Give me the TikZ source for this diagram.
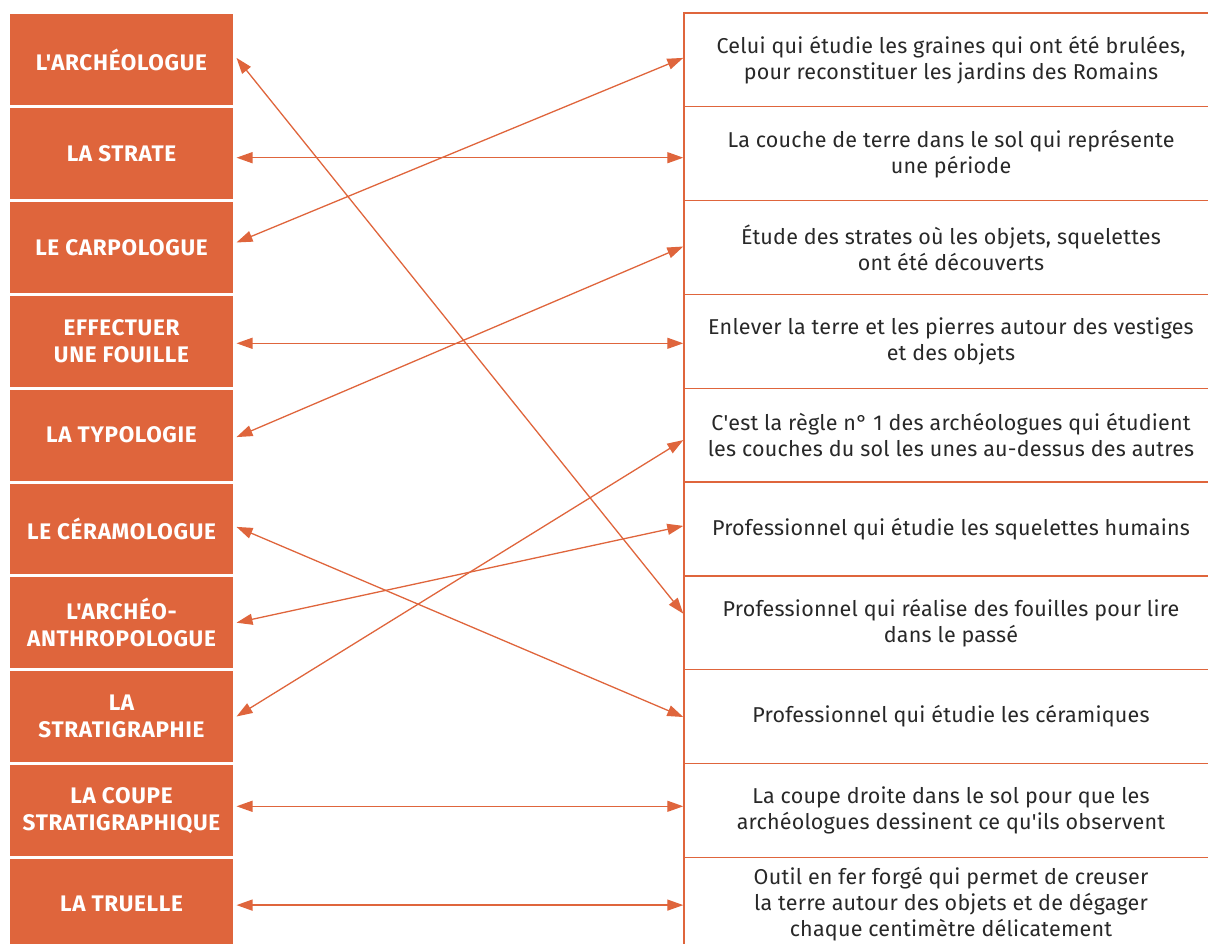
\documentclass[tikz,border=0pt]{standalone}
\usepackage{fontspec}
\setmainfont{Fira Sans}
\newfontfamily\lfont[LetterSpace=3]{Fira Sans}
\newfontfamily\rfont[LetterSpace=1]{Fira Sans}
\usetikzlibrary{arrows.meta}
\definecolor{org}{RGB}{223,101,60}
\definecolor{txt}{RGB}{40,40,40}
\tikzset{
  lbox/.style={fill=org, draw=white, line width=3pt, minimum width=226pt, minimum height=93.8pt,
    inner sep=0pt, align=center, text=white, font=\lfont\fontsize{22.5}{27}\selectfont\bfseries},
  rbox/.style={draw=org, line width=1.4pt, minimum width=534pt, minimum height=93.8pt,
    inner sep=0pt, align=center, text=txt, font=\rfont\fontsize{21.5}{26}\selectfont},
  conn/.style={draw=org, line width=1.3pt, {Triangle[length=16pt,width=11pt]}-{Triangle[length=16pt,width=11pt]}}
}
\begin{document}
\begin{tikzpicture}[x=1pt,y=-1pt]
\useasboundingbox (0,0) rectangle (1208,944);
% left column
\node[lbox] (L1) at (121.5,59.9) {L'ARCHÉOLOGUE};
\node[lbox] (L2) at (121.5,153.7) {LA STRATE};
\node[lbox] (L3) at (121.5,247.5) {LE CARPOLOGUE};
\node[lbox] (L4) at (121.5,341.3) {EFFECTUER\\UNE FOUILLE};
\node[lbox] (L5) at (121.5,435.1) {LA TYPOLOGIE};
\node[lbox] (L6) at (121.5,528.9) {LE CÉRAMOLOGUE};
\node[lbox] (L7) at (121.5,622.7) {L'ARCHÉO-\\ANTHROPOLOGUE};
\node[lbox] (L8) at (121.5,716.5) {LA\\STRATIGRAPHIE};
\node[lbox] (L9) at (121.5,810.3) {LA COUPE\\STRATIGRAPHIQUE};
\node[lbox] (L10) at (121.5,904.1) {LA TRUELLE};
% right column
\node[rbox] (R1) at (951,59.9) {Celui qui étudie les graines qui ont été brulées,\\pour reconstituer les jardins des Romains};
\node[rbox] (R2) at (951,153.7) {La couche de terre dans le sol qui représente\\une période};
\node[rbox] (R3) at (951,247.5) {Étude des strates où les objets, squelettes\\ont été découverts};
\node[rbox] (R4) at (951,341.3) {Enlever la terre et les pierres autour des vestiges\\et des objets};
\node[rbox] (R5) at (951,435.1) {C'est la règle n° 1 des archéologues qui étudient\\les couches du sol les unes au-dessus des autres};
\node[rbox] (R6) at (951,528.9) {Professionnel qui étudie les squelettes humains};
\node[rbox] (R7) at (951,622.7) {Professionnel qui réalise des fouilles pour lire\\dans le passé};
\node[rbox] (R8) at (951,716.5) {Professionnel qui étudie les céramiques};
\node[rbox] (R9) at (951,810.3) {La coupe droite dans le sol pour que les\\archéologues dessinent ce qu'ils observent};
\node[rbox] (R10) at (951,904.1) {Outil en fer forgé qui permet de creuser\\la terre autour des objets et de dégager\\chaque centimètre délicatement};
% connectors
\draw[conn] ([xshift=0.5pt,yshift=2pt]L1.east) -- ([yshift=9pt]R7.west);
\draw[conn] ([xshift=0.5pt,yshift=-4pt]L2.east) -- ([yshift=-4pt]R2.west);
\draw[conn] ([xshift=0.5pt,yshift=5pt]L3.east) -- ([yshift=2pt]R1.west);
\draw[conn] ([xshift=0.5pt,yshift=-2pt]L4.east) -- ([yshift=-2pt]R4.west);
\draw[conn] ([xshift=0.5pt,yshift=-2pt]L5.east) -- ([yshift=1pt]R3.west);
\draw[conn] ([xshift=0.5pt,yshift=2pt]L6.east) -- ([yshift=-0.5pt]R8.west);
\draw[conn] ([xshift=0.5pt]L7.east) -- ([yshift=3pt]R6.west);
\draw[conn] ([xshift=0.5pt]L8.east) -- ([yshift=-5pt]R5.west);
\draw[conn] ([xshift=0.5pt,yshift=4pt]L9.east) -- ([yshift=4pt]R9.west);
\draw[conn] ([xshift=0.5pt,yshift=-1pt]L10.east) -- ([yshift=-1pt]R10.west);
\end{tikzpicture}
\end{document}
